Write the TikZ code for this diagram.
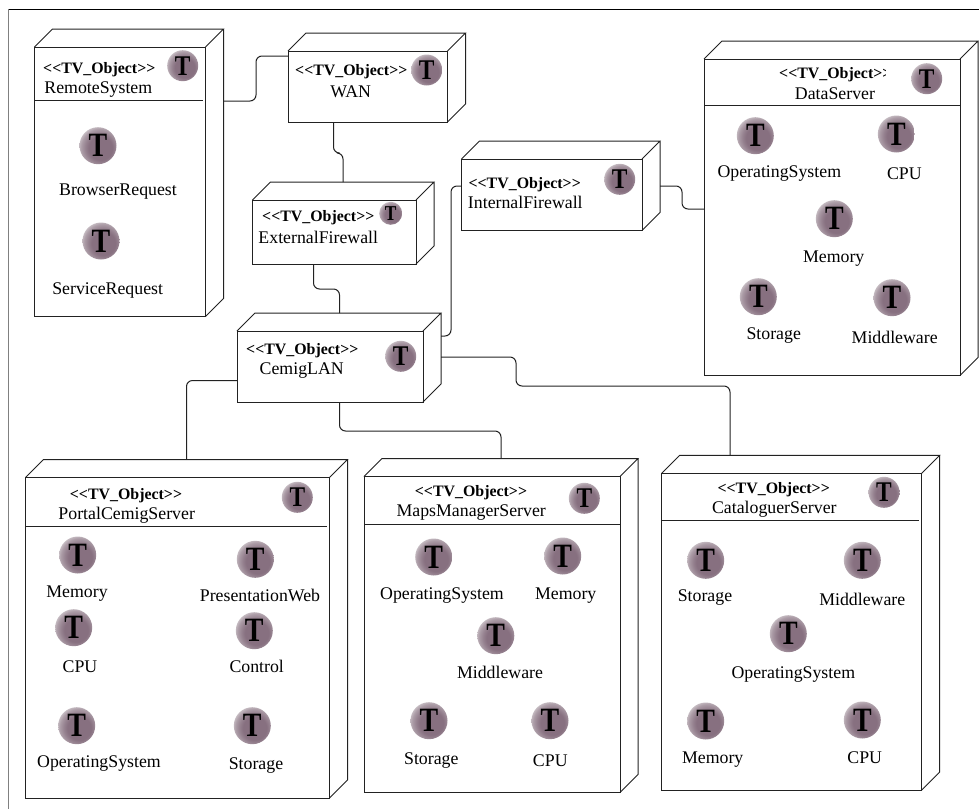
\documentclass[tikz,border=0pt]{standalone}
\usepackage{fontspec}
\setmainfont{Liberation Serif}
\usetikzlibrary{calc}
\definecolor{tvm}{HTML}{877080}
\definecolor{tvl}{HTML}{E2DEE0}
\definecolor{ink}{HTML}{222222}
\pgfdeclareradialshading{tvball}{\pgfpoint{5bp}{-5bp}}{%
 color(0bp)=(tvm); color(16bp)=(tvm); color(20bp)=(tvm!85!tvl); color(25bp)=(tvm!60!tvl); color(32bp)=(tvl); color(50bp)=(tvl)}
\tikzset{
 x=1pt,y=-1pt,
 boxline/.style={draw=ink,line width=1pt,line join=miter},
 conn/.style={draw=ink,line width=1pt,rounded corners=6pt},
 hidden/.style={draw=none,inner sep=0pt,outer sep=0pt},
 lab/.style={inner sep=0pt,yshift=-2.3pt,font=\fontsize{17.8}{20}\selectfont},
 stereo/.style={inner sep=0pt,yshift=-1.6pt,font=\fontsize{15.9}{18}\selectfont\bfseries},
}
% name x1 y1 x2 y2 : deployment node with front face (x1,y1)-(x2,y2)
\newcommand{\dnode}[5]{%
 \pgfmathsetmacro{\dw}{#4-#2+18}\pgfmathsetmacro{\dh}{#5-#3+18}%
 \pgfmathsetmacro{\dcx}{(#2+#4+18)/2}\pgfmathsetmacro{\dcy}{(#3+#5-18)/2}%
 \node[hidden,minimum width=\dw pt,minimum height=\dh pt] (#1) at (\dcx,\dcy) {};%
 \draw[boxline] (#2,#3) rectangle (#4,#5);%
 \draw[boxline] (#2,#3) -- ++(18,-18) -- ++(#4-#2,0) -- (#4,#3)
   (#4+18,#3-18) -- (#4+18,#5-18) -- (#4,#5);%
}
% name x y r : ball icon
\newcommand{\ticon}[4]{%
 \pgfmathsetmacro{\tfs}{#4*1.84}\pgfmathsetmacro{\dia}{2*#4}%
 \node[circle,inner sep=0pt,minimum size=\dia pt,shading=tvball,text=black] (#1) at (#2,#3)
  {\raisebox{-.3ex}{\scalebox{.82}[1]{\fontsize{\tfs}{\tfs}\selectfont\bfseries T}}};%
}
\newcommand{\stxt}{<\kern0pt<TV\_Object>\kern0pt>}
\begin{document}
\begin{tikzpicture}
\useasboundingbox (0,0) rectangle (979,809);
\fill[white] (0,0) rectangle (979,809);
\draw[black,line width=1pt] (8.5,9) -- (979,9);
\draw[gray,line width=1.7pt] (8.5,9) -- (8.5,809);

% ---- boxes
\dnode{rs}{34.5}{47}{205.5}{316.5}
\draw[boxline] (35,100.5) -- (203,100.5);
\dnode{wan}{288}{51}{447.5}{122}
\dnode{ef}{252.5}{200}{416}{264}
\dnode{if}{461.5}{159}{642}{230.5}
\dnode{ds}{704}{59}{960}{375.5}
\draw[boxline] (704,105.5) -- (960,105.5);
\dnode{lan}{237}{331}{423}{402}
\dnode{pc}{25.5}{477.5}{329.5}{798}
\draw[boxline] (26,526) -- (327,526);
\dnode{mm}{364}{476.5}{620}{792.5}
\draw[boxline] (364,524) -- (620,524);
\dnode{cs}{661.7}{473.3}{921.7}{790}
\draw[boxline] (662,520) -- (919,520);

% ---- connectors
\draw[conn] (rs.east |- 0,101) -- (256,101) -- (256,56) -- (wan.west |- 0,56);
\draw[conn] (wan.south -| 333.5,0) -- (333.5,153) -- (343,153) -- (ef.north -| 343,0);
\draw[conn] (ef.south -| 313.5,0) -- (313.5,289) -- (339.5,289) -- (lan.north -| 339.5,0);
\draw[conn] (lan.east |- 0,336) -- (451,336) -- (451,186) -- (if.west |- 0,186);
\draw[conn] (if.east |- 0,186) -- (682,186) -- (682,209) -- (ds.west |- 0,209);
\draw[conn] (lan.east |- 0,357) -- (516,357) -- (516,386) -- (730,386) -- (cs.north -| 730,0);
\draw[conn] (lan.west |- 0,380.5) -- (186.5,380.5) -- (pc.north -| 186.5,0);
\draw[conn] (lan.south -| 339.5,0) -- (339.5,431) -- (501,431) -- (mm.north -| 501,0);

% ---- RemoteSystem
\node[stereo] (rs-s) at (99.3,67.7) {\stxt};
\node[lab] (rs-n) at (98.3,87) {RemoteSystem};
\ticon{rs-t}{182.7}{65.7}{15.5}
\ticon{rs-b}{98}{145.7}{18.5}
\node[lab] (rs-bl) at (118,189) {BrowserRequest};
\ticon{rs-r}{101}{241}{18.5}
\node[lab] (rs-rl) at (107.7,288) {ServiceRequest};

% ---- WAN
\node[stereo] (wan-s) at (351.3,70) {\stxt};
\node[lab] (wan-n) at (350.7,89.3) {WAN};
\ticon{wan-t}{426.7}{70}{15.5}

% ---- ExternalFirewall
\node[stereo] (ef-s) at (318.3,216.3) {\stxt};
\node[lab] (ef-n) at (318.3,235.3) {ExternalFirewall};
\ticon{ef-t}{390.7}{213.3}{11.5}

% ---- InternalFirewall
\node[stereo] (if-s) at (524.7,183.3) {\stxt};
\node[lab] (if-n) at (525.3,200) {InternalFirewall};
\ticon{if-t}{619.7}{179.3}{15.5}

% ---- CemigLAN
\node[stereo] (lan-s) at (302.3,349) {\stxt};
\node[lab] (lan-n) at (301.7,368.3) {CemigLAN};
\ticon{lan-t}{400.7}{356.3}{15.5}

% ---- DataServer
\begin{scope}
\clip (770,60) rectangle (885,85);
\node[stereo] (ds-s) at (835.3,72.7) {\stxt};
\end{scope}
\node[lab] (ds-n) at (835,91.7) {DataServer};
\ticon{ds-t}{926.7}{78.7}{15.5}
\ticon{ds-a}{755.3}{135.7}{18.5}
\node[lab] (ds-al) at (779.3,171) {OperatingSystem};
\ticon{ds-b}{896.3}{134}{18.5}
\node[lab] (ds-bl) at (904.3,171) {CPU};
\ticon{ds-c}{834.3}{218.7}{18.5}
\node[lab] (ds-cl) at (833.7,256.3) {Memory};
\ticon{ds-d}{758.3}{296.7}{18.5}
\node[lab] (ds-dl) at (773.7,333.7) {Storage};
\ticon{ds-e}{892}{297.7}{18.5}
\node[lab] (ds-el) at (894.7,334.7) {Middleware};

% ---- PortalCemigServer
\node[stereo] (pc-s) at (126,494) {\stxt};
\node[lab] (pc-n) at (126.7,513.3) {PortalCemigServer};
\ticon{pc-t}{297.3}{497.3}{15.5}
\ticon{pc-a}{77.7}{555}{18.5}
\node[lab] (pc-al) at (77,591.7) {Memory};
\ticon{pc-b}{255.3}{559.3}{18.5}
\node[lab] (pc-bl) at (260,592.7) {PresentationWeb};
\ticon{pc-c}{73.7}{627.7}{18.5}
\node[lab] (pc-cl) at (80,664.7) {CPU};
\ticon{pc-d}{254.3}{630.7}{18.5}
\node[lab] (pc-dl) at (256.7,664) {Control};
\ticon{pc-e}{76.7}{725.7}{18.5}
\node[lab] (pc-el) at (99,761.7) {OperatingSystem};
\ticon{pc-f}{252.3}{725.7}{18.5}
\node[lab] (pc-fl) at (256,763) {Storage};

% ---- MapsManagerServer
\node[stereo] (mm-s) at (471,490.7) {\stxt};
\node[lab] (mm-n) at (471.2,510.3) {MapsManagerServer};
\ticon{mm-t}{584.3}{498.3}{15.5}
\ticon{mm-a}{433.7}{557}{18.5}
\node[lab] (mm-al) at (442,593.7) {OperatingSystem};
\ticon{mm-b}{562.7}{556}{18.5}
\node[lab] (mm-bl) at (565.7,593.7) {Memory};
\ticon{mm-c}{495.8}{635.7}{18.5}
\node[lab] (mm-cl) at (500,670) {Middleware};
\ticon{mm-d}{429}{720.7}{18.5}
\node[lab] (mm-dl) at (431.3,758.3) {Storage};
\ticon{mm-e}{550}{720.7}{18.5}
\node[lab] (mm-el) at (550.3,758) {CPU};

% ---- CataloguerServer
\node[stereo] (cs-s) at (773.7,488) {\stxt};
\node[lab] (cs-n) at (774.3,507.3) {CataloguerServer};
\ticon{cs-t}{884}{492.3}{15.5}
\ticon{cs-a}{705.7}{560.3}{18.5}
\node[lab] (cs-al) at (705,595.7) {Storage};
\ticon{cs-b}{862.3}{560.3}{18.5}
\node[lab] (cs-bl) at (862.3,596.7) {Middleware};
\ticon{cs-c}{788.3}{633.7}{18.5}
\node[lab] (cs-cl) at (793.3,672) {OperatingSystem};
\ticon{cs-d}{705.7}{721}{18.5}
\node[lab] (cs-dl) at (712.7,757) {Memory};
\ticon{cs-e}{862.3}{720}{18.5}
\node[lab] (cs-el) at (864.7,755) {CPU};
\end{tikzpicture}
\end{document}
